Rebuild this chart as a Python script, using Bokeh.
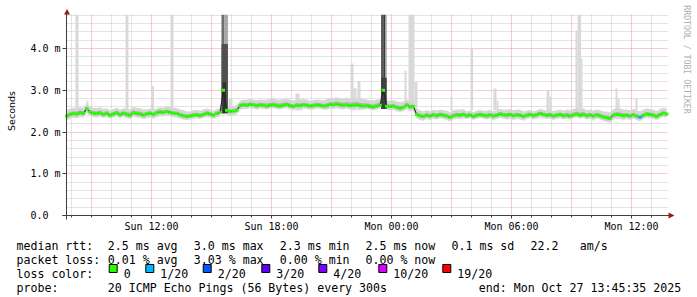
import numpy as np
from bokeh.plotting import figure
from bokeh.models import ColumnDataSource, FixedTicker, Range1d
from bokeh.core.properties import value
from bokeh.embed import file_html
from bokeh.resources import INLINE

# ---------------- data ----------------
T_END = 37.76          # Mon 13:45:35 (hours since Sun 00:00)
STEP_H = 1 / 6         # 10 minute consolidated steps
Y_TOP = 4.81           # upper limit of the graph (ms)

median_ms = [
    2.38, 2.42, 2.44, 2.43, 2.46, 2.44, 2.56, 2.48, 2.45, 2.44,
    2.46, 2.42, 2.45, 2.40, 2.43, 2.46, 2.41, 2.45, 2.42, 2.40,
    2.46, 2.44, 2.43, 2.40, 2.43, 2.45, 2.42, 2.46, 2.48, 2.47,
    2.49, 2.47, 2.45, 2.44, 2.41, 2.39, 2.37, 2.38, 2.40, 2.41,
    2.39, 2.42, 2.45, 2.43, 2.40, 2.44, 2.47, 3.00, 2.52, 2.49,
    2.50, 2.52, 2.63, 2.65, 2.64, 2.66, 2.65, 2.63, 2.65, 2.64,
    2.62, 2.64, 2.65, 2.63, 2.62, 2.64, 2.66, 2.63, 2.61, 2.64,
    2.63, 2.65, 2.64, 2.62, 2.63, 2.65, 2.64, 2.62, 2.63, 2.66,
    2.65, 2.67, 2.65, 2.64, 2.65, 2.63, 2.64, 2.65, 2.63, 2.62,
    2.63, 2.61, 2.60, 2.62, 2.64, 3.00, 2.62, 2.61, 2.62, 2.59,
    2.57, 2.59, 2.65, 2.60, 2.61, 2.42, 2.39, 2.37, 2.40, 2.38,
    2.41, 2.39, 2.42, 2.40, 2.38, 2.35, 2.39, 2.41, 2.40, 2.42,
    2.39, 2.41, 2.37, 2.40, 2.42, 2.40, 2.39, 2.41, 2.38, 2.40,
    2.43, 2.41, 2.40, 2.42, 2.39, 2.41, 2.40, 2.37, 2.40, 2.42,
    2.39, 2.41, 2.44, 2.42, 2.40, 2.41, 2.38, 2.40, 2.42, 2.39,
    2.40, 2.38, 2.41, 2.43, 2.40, 2.42, 2.39, 2.41, 2.38, 2.41,
    2.39, 2.36, 2.34, 2.32, 2.40, 2.42, 2.41, 2.39, 2.40, 2.38,
    2.41, 2.38, 2.35, 2.40, 2.43, 2.42, 2.40, 2.37, 2.42, 2.45,
    2.43,
]

# smoke spread around the median, one value per hour of the window (ms)
smoke_up_outer = [0.14, 0.13, 0.12, 0.14, 0.11, 0.13, 0.12, 0.11, 0.12, 0.13,
                  0.15, 0.14, 0.13, 0.16, 0.17, 0.15, 0.14, 0.13, 0.12, 0.13,
                  0.11, 0.12, 0.13, 0.11, 0.12, 0.14, 0.13, 0.15, 0.14, 0.13]
smoke_dn_outer = [0.10, 0.09, 0.08, 0.09, 0.10, 0.09, 0.08, 0.09, 0.10, 0.09,
                  0.08, 0.09, 0.09, 0.10, 0.09, 0.08, 0.09, 0.10, 0.09, 0.09,
                  0.08, 0.09, 0.10, 0.09, 0.09, 0.08, 0.09, 0.10, 0.09, 0.09]
smoke_up_inner = [0.06, 0.05, 0.05, 0.06, 0.05, 0.05, 0.05, 0.05, 0.05, 0.05,
                  0.06, 0.05, 0.05, 0.06, 0.07, 0.06, 0.05, 0.05, 0.05, 0.05,
                  0.05, 0.05, 0.05, 0.05, 0.05, 0.06, 0.05, 0.06, 0.05, 0.05]
smoke_dn_inner = [0.04, 0.04, 0.04, 0.04, 0.04, 0.04, 0.04, 0.04, 0.04, 0.04,
                  0.04, 0.04, 0.04, 0.04, 0.04, 0.04, 0.04, 0.04, 0.04, 0.04,
                  0.04, 0.04, 0.04, 0.04, 0.04, 0.04, 0.04, 0.04, 0.04, 0.04]

# isolated high pings (light smoke spikes): start, end (h), top (ms)
light_t0 = [8.20, 8.75, 10.70, 12.00, 12.95, 15.85, 19.20, 19.40, 21.95, 22.10,
            22.30, 24.65, 24.85, 25.15, 26.95, 27.95, 29.10, 29.25, 31.75, 31.90,
            33.20, 33.30, 33.48, 35.20, 35.30, 36.20]
light_t1 = [8.35, 8.85, 10.85, 12.12, 13.10, 16.05, 19.40, 19.55, 22.10, 22.25,
            22.45, 24.75, 25.15, 25.30, 27.05, 28.08, 29.25, 29.35, 31.90, 32.00,
            33.30, 33.48, 33.55, 35.30, 35.40, 36.30]
light_top = [4.85, 2.75, 4.85, 3.10, 4.85, 2.80, 2.92, 2.78, 3.64, 3.05,
             3.22, 3.47, 4.85, 3.20, 2.85, 4.02, 3.04, 2.75, 3.00, 2.85,
             4.43, 4.85, 3.76, 3.04, 2.80, 2.80]
light_base = 2.52

# dense high-latency bursts (dark smoke)
dark_t0 = [15.50, 15.65, 15.50, 15.56, 23.48, 23.62, 23.70, 23.48]
dark_t1 = [15.65, 15.82, 15.82, 15.72, 23.62, 23.70, 23.76, 23.76]
dark_bottom = [2.45, 2.45, 2.45, 2.45, 2.55, 2.55, 2.55, 2.55]
dark_top = [4.85, 4.85, 4.11, 3.20, 4.85, 4.85, 4.85, 3.30]
dark_color = ["#6e6e6e", "#a8a8a8", "#505050", "#303030",
              "#555555", "#3a3a3a", "#aaaaaa", "#404040"]

loss_event_time = [36.43]
loss_event_count = [1]

x_tick_hours = [12, 18, 24, 30, 36]
x_tick_labels = ["Sun 12:00", "Sun 18:00", "Mon 00:00", "Mon 06:00", "Mon 12:00"]
y_ticks = [0, 1, 2, 3, 4]
y_tick_labels = ["0.0\u00a0\u00a0", "1.0 m", "2.0 m", "3.0 m", "4.0 m"]

loss_labels = ["0", "1/20", "2/20", "3/20", "4/20", "10/20", "19/20"]
loss_colors = ["#26ff00", "#00b8ff", "#0059ff", "#5e00ff", "#7e00ff", "#dd00ff", "#ff0000"]

stats_rtt = ["2.5 ms avg", "3.0 ms max", "2.3 ms min", "2.5 ms now", "0.1 ms sd"]
stats_loss = ["0.01 % avg", "3.03 % max", "0.00 % min", "0.00 % now"]
am_value = "22.2"
probe_text = "20 ICMP Echo Pings (56 Bytes) every 300s"
end_text = "end: Mon Oct 27 13:45:35 2025"

# ---------------- geometry helpers (pixel -> data) ----------------
X_LEFT_PX, H_AT_LEFT, PX_PER_H = 66, 7.75, 20.0
Y0_PX, PX_PER_MS = 215, 41.75
W, H = 697, 297


def tx(px):
    return H_AT_LEFT + (px - X_LEFT_PX) / PX_PER_H


def vy(py):
    return (Y0_PX - py) / PX_PER_MS


n = len(median_ms)
t = T_END - (n - 1) * STEP_H + np.arange(n) * STEP_H
med = np.array(median_ms)
hour_idx = np.minimum((np.arange(n) * STEP_H).astype(int), 29)
up_o = np.array(smoke_up_outer)[hour_idx]
dn_o = np.array(smoke_dn_outer)[hour_idx]
up_i = np.array(smoke_up_inner)[hour_idx]
dn_i = np.array(smoke_dn_inner)[hour_idx]

loss = np.zeros(n, dtype=int)
for lt, lc in zip(loss_event_time, loss_event_count):
    loss[int(np.argmin(np.abs(t - lt)))] = lc
med_colors = [loss_colors[int(v)] for v in loss]

X_END = tx(668)

p = figure(width=W, height=H, output_backend="svg", toolbar_location=None,
           x_range=Range1d(tx(0), tx(W)), y_range=Range1d(vy(H), vy(0)),
           min_border=0)
p.background_fill_color = "white"
p.border_fill_color = "white"
p.outline_line_color = None

# grids
major_grid = "#e89a9a"
minor_grid = "#c8c8c8"
p.xgrid.ticker = FixedTicker(ticks=[h for h in range(9, 38, 3)],
                             minor_ticks=[h for h in range(8, 38) if h % 3])
p.ygrid.ticker = FixedTicker(ticks=[1, 2, 3, 4],
                             minor_ticks=[round(k * 0.2, 1) for k in range(1, 25) if k % 5])
p.xgrid.cross_bounds = (0, vy(13))
p.ygrid.cross_bounds = (H_AT_LEFT, X_END)
for g in (p.xgrid, p.ygrid):
    g.grid_line_color = major_grid
    g.grid_line_dash = "1 1"
    g.grid_line_width = 1
    g.minor_grid_line_color = minor_grid
    g.minor_grid_line_dash = "1 1"
    g.minor_grid_line_width = 1

# light spikes
p.quad(left=light_t0, right=light_t1, bottom=light_base,
       top=np.minimum(np.array(light_top), Y_TOP), fill_color="#d9d9d9", line_color=None)

# smoke bands
p.varea(x=t, y1=med - dn_o, y2=med + up_o, fill_color="#d6d6d6")
p.varea(x=t, y1=med - dn_i, y2=med + up_i, fill_color="#b4b4b4")

# dark spikes
p.quad(source=ColumnDataSource(dict(l=dark_t0, r=dark_t1, b=dark_bottom,
                                    tp=np.minimum(np.array(dark_top), Y_TOP), c=dark_color)),
       left="l", right="r", bottom="b", top="tp", fill_color="c", line_color=None)

# median line + loss colour blocks
p.line(t, med, line_color="#202020", line_width=1)
p.quad(left=t - STEP_H / 2, right=t + STEP_H / 2, bottom=med - 0.035, top=med + 0.035,
       fill_color=med_colors, line_color=None)

# axes placed at fixed data locations inside the full-canvas frame
axis_col = "#404040"
p.xaxis.fixed_location = 0
p.yaxis.fixed_location = H_AT_LEFT
p.xaxis.bounds = (tx(62), tx(670))
p.yaxis.bounds = (vy(219), vy(12))
p.xaxis.ticker = FixedTicker(ticks=x_tick_hours, minor_ticks=list(range(8, 38)))
p.xaxis.major_label_overrides = dict(zip(x_tick_hours, x_tick_labels))
p.yaxis.ticker = FixedTicker(ticks=y_ticks)
p.yaxis.major_label_overrides = dict(zip(y_ticks, y_tick_labels))
for ax in (p.xaxis, p.yaxis):
    ax.axis_line_color = axis_col
    ax.major_tick_line_color = axis_col
    ax.minor_tick_line_color = axis_col
    ax.major_tick_in = 0
    ax.minor_tick_in = 0
    ax.major_label_text_font = "DejaVu Sans Mono"
    ax.major_label_text_font_size = "10px"
    ax.major_label_text_color = "black"
p.xaxis.major_tick_out = 3
p.xaxis.minor_tick_out = 2
p.xaxis.major_label_standoff = 2
p.yaxis.major_tick_out = 4
p.yaxis.minor_tick_out = 0
p.yaxis.major_label_standoff = 2

# axis arrows
arrow_col = "#a01818"
p.patches(xs=[[tx(63.5), tx(66.5), tx(69.5)], [tx(668), tx(674), tx(668)]],
          ys=[[vy(14), vy(8.5), vy(14)], [vy(212), vy(215), vy(218)]],
          fill_color=arrow_col, line_color=None)

# side texts
p.text(x=[tx(10.5)], y=[vy(110.5)], text=["Seconds"], angle=np.pi / 2,
       text_align="center", text_baseline="middle",
       text_font=value("DejaVu Sans"), text_font_size=value("9.5px"), text_color="black")
p.text(x=[tx(686)], y=[vy(59)], text=["RRDTOOL / TOBI OETIKER"], angle=-np.pi / 2,
       text_align="center", text_baseline="middle",
       text_font=value("DejaVu Sans Mono"), text_font_size=value("8.2px"), text_color="#b0b0b0")

# legend / statistics block
col_x = [107.3, 193.3, 279.3, 365.0, 451.0]
sq_x = [108.7, 145.3, 202.7, 261.3, 318.3, 378.3, 442.3]
tx_px, ty_px, tt = [], [], []


def add(xp, yp, s):
    tx_px.append(xp)
    ty_px.append(yp)
    tt.append(s)


add(16, 245, "median rtt:")
for xp, s in zip(col_x, stats_rtt):
    add(xp, 245, s)
add(530, 245, am_value)
add(579.3, 245, "am/s")
add(16, 259, "packet loss:")
for xp, s in zip(col_x, stats_loss):
    add(xp, 259, s)
add(16, 273, "loss color:")
for xp, lab in zip(sq_x, loss_labels):
    add(xp + 14.5, 273, lab)
add(16, 287, "probe:")
add(107.3, 287, probe_text)
add(478.3, 287, end_text)

p.text(x=[tx(v) for v in tx_px], y=[vy(v) for v in ty_px], text=tt,
       text_align="left", text_baseline="alphabetic",
       text_font=value("DejaVu Sans Mono"), text_font_size=value("11.6px"), text_color="black")
p.quad(left=[tx(v) for v in sq_x], right=[tx(v + 8) for v in sq_x],
       bottom=vy(272), top=vy(264), fill_color=loss_colors, line_color="black", line_width=1)

open("out.html", "w").write(file_html(p, INLINE))
